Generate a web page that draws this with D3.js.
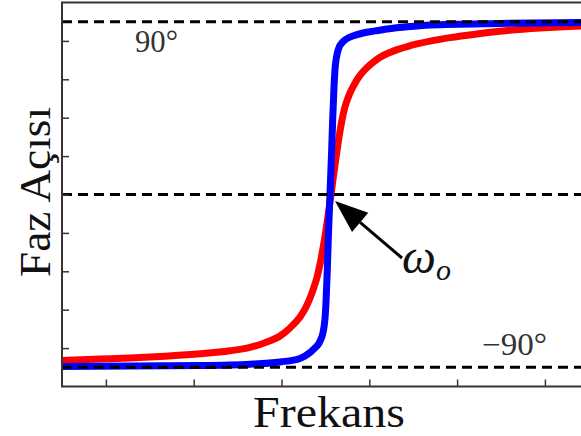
<!DOCTYPE html>
<html><head><meta charset="utf-8">
<script src="https://cdn.jsdelivr.net/npm/d3@7"></script>
<style>body{margin:0;background:#fff}svg{display:block}</style>
</head><body>
<script>
// Data: frequency (arbitrary units) and phase in degrees
const xTicks = [1, 2, 3, 4, 5, 6];
const yTicks = [-80, -60, -40, -20, 0, 20, 40, 60, 80];
const refLines = [90, 0, -90];
const redFreq  = [0.500, 0.933, 1.275, 1.673, 2.072, 2.413, 2.641, 2.812, 2.983, 3.097, 3.211, 3.268, 3.325, 3.370, 3.405, 3.439, 3.467, 3.496, 3.530, 3.564, 3.598, 3.632, 3.661, 3.689, 3.723, 3.757, 3.791, 3.837, 3.894, 3.951, 4.008, 4.076, 4.156, 4.236, 4.327, 4.441, 4.544, 4.692, 4.920, 5.205, 5.490, 5.945, 6.412, 7.080];
const redPhase = [-86.4, -85.7, -85.1, -84.2, -83.0, -81.4, -79.6, -77.2, -73.7, -69.5, -63.8, -59.6, -53.9, -48.2, -43.0, -36.2, -29.4, -21.6, -11.2, 0, 11.7, 22.7, 31.5, 38.8, 45.6, 50.3, 54.0, 58.0, 62.0, 65.0, 67.5, 70.0, 72.3, 74.0, 75.6, 77.2, 78.4, 79.9, 81.7, 83.5, 85.0, 86.7, 87.8, 88.5];
const blueFreq  = [0.500, 2.072, 2.641, 2.983, 3.211, 3.325, 3.382, 3.421, 3.450, 3.469, 3.484, 3.496, 3.507, 3.522, 3.533, 3.552, 3.572, 3.583, 3.598, 3.609, 3.636, 3.655, 3.686, 3.723, 3.780, 3.849, 3.929, 4.066, 4.202, 4.464, 4.692, 5.490, 6.412, 7.080];
const bluePhase = [-89.6, -89.1, -88.4, -87.2, -85.4, -82.3, -79.9, -77.9, -75.3, -72.7, -69.0, -64.3, -56.0, -39.0, -23.0, 0, 24.0, 39.0, 56.0, 64.8, 73.7, 76.6, 78.9, 80.5, 82.0, 83.1, 84.1, 85.2, 86.2, 87.5, 88.3, 89.1, 89.6, 89.7];
const xLabel = "Frekans";
const yLabel = "Faz Açısı";

const W = 581, H = 436;
const svg = d3.select("body").append("svg").attr("width", W).attr("height", H);
const x = d3.scaleLinear().domain([0.5, 7]).range([62, 632.7]);
const y = d3.scaleLinear().domain([-100, 100]).range([386.5, 2.5]);
const frameColor = "#3a3232";

const line = d3.line().x(d => x(d[0])).y(d => y(d[1])).curve(d3.curveMonotoneX);
const red = redFreq.map((f, i) => [f, redPhase[i]]);
const blue = blueFreq.map((f, i) => [f, bluePhase[i]]);

svg.append("path").datum(red).attr("d", line).attr("fill", "none")
  .attr("stroke", "#ff0000").attr("stroke-width", 7).attr("stroke-linejoin", "round");
svg.append("path").datum(blue).attr("d", line).attr("fill", "none")
  .attr("stroke", "#0000ff").attr("stroke-width", 7).attr("stroke-linejoin", "round");

// dashed reference lines
svg.selectAll("line.ref").data(refLines).join("line").attr("class", "ref")
  .attr("x1", x(0.5)).attr("x2", W).attr("y1", d => y(d)).attr("y2", d => y(d))
  .attr("stroke", "#000").attr("stroke-width", 3).attr("stroke-dasharray", "10,6");

// axes (ticks inward)
const gx = svg.append("g").attr("transform", `translate(0,${y(-100)})`)
  .call(d3.axisTop(x).tickValues(xTicks).tickSize(7).tickFormat(""));
const gy = svg.append("g").attr("transform", `translate(${x(0.5)},0)`)
  .call(d3.axisRight(y).tickValues(yTicks).tickSize(7).tickFormat(""));
[gx, gy].forEach(g => {
  g.select(".domain").remove();
  g.selectAll(".tick line").attr("stroke", frameColor).attr("stroke-width", 1.5);
});
// frame: left, top, bottom
svg.append("path").attr("d", `M${W},${y(100)}H${x(0.5)}V${y(-100)}H${W}`)
  .attr("fill", "none").attr("stroke", frameColor).attr("stroke-width", 2);

// labels
svg.append("text").attr("x", 329).attr("y", 427).attr("text-anchor", "middle")
  .attr("font-family", "Liberation Serif, serif").attr("font-size", 44)
  .attr("textLength", 152).attr("lengthAdjust", "spacingAndGlyphs").attr("fill", "#111").text(xLabel);
svg.append("text").attr("transform", "translate(50,192) rotate(-90)").attr("text-anchor", "middle")
  .attr("font-family", "Liberation Serif, serif").attr("font-size", 44)
  .attr("textLength", 170).attr("lengthAdjust", "spacingAndGlyphs").attr("fill", "#111").text(yLabel);

svg.append("text").attr("x", 135).attr("y", 52)
  .attr("font-family", "Liberation Serif, serif").attr("font-size", 31)
  .attr("textLength", 43).attr("lengthAdjust", "spacingAndGlyphs").attr("fill", "#333").text("90°");
svg.append("text").attr("x", 482).attr("y", 355)
  .attr("font-family", "Liberation Serif, serif").attr("font-size", 31)
  .attr("textLength", 65).attr("lengthAdjust", "spacingAndGlyphs").attr("fill", "#333").text("−90°");

// arrow to ω0
const tip = [335, 201], tail = [402, 258];
const ang = Math.atan2(tip[1] - tail[1], tip[0] - tail[0]);
const hl = 33, hw = 12.5;
const bx = tip[0] - hl * Math.cos(ang), by = tip[1] - hl * Math.sin(ang);
svg.append("line").attr("x1", tail[0]).attr("y1", tail[1]).attr("x2", bx).attr("y2", by)
  .attr("stroke", "#000").attr("stroke-width", 3);
svg.append("path").attr("d", `M${tip[0]},${tip[1]}L${bx - hw * Math.sin(ang)},${by + hw * Math.cos(ang)}L${bx + hw * Math.sin(ang)},${by - hw * Math.cos(ang)}Z`)
  .attr("fill", "#000");

const om = svg.append("text").attr("x", 402).attr("y", 273)
  .attr("font-family", "Liberation Serif, serif").attr("font-style", "italic").attr("font-size", 48).attr("fill", "#111");
om.append("tspan").text("ω");
om.append("tspan").attr("font-size", 30).attr("dy", 7).text("o");
</script>
</body></html>
